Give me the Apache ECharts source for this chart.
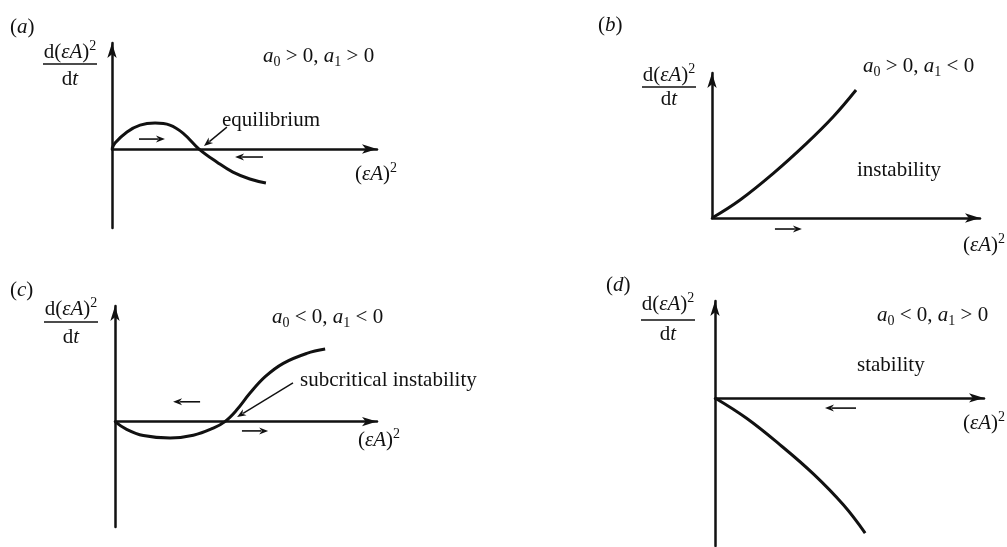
<!DOCTYPE html>
<html>
<head>
<meta charset="utf-8">
<script src="https://cdn.jsdelivr.net/npm/echarts@6/dist/echarts.min.js"></script>
<style>
  html, body { margin: 0; padding: 0; background: #ffffff; }
  #chart { width: 1007px; height: 547px; }
</style>
</head>
<body>
<div id="chart"></div>
<script>
// Growth rate of the squared amplitude against the squared amplitude,
// one sample list per case: [ (εA)^2 , d(εA)^2/dt ] in arbitrary units.
const curveA = [[0, 0], [0.11, 0.21], [0.55, 0.60], [1.03, 0.84], [1.58, 0.91], [2.12, 0.84],
                [2.60, 0.56], [3.19, 0], [3.85, -0.46], [4.43, -0.81], [5.05, -1.05], [5.64, -1.19]];
const curveB = [[0, 0], [1.02, 1.18], [2.23, 2.92], [3.44, 4.88], [4.41, 6.62], [5.24, 8.37]];
const curveC = [[0, 0], [0.43, -0.25], [1.05, -0.45], [2.04, -0.53], [2.90, -0.44], [3.64, -0.21],
                [4.07, 0], [4.51, 0.38], [5.00, 0.92], [5.56, 1.45], [6.23, 1.88], [7.10, 2.20], [7.78, 2.34]];
const curveD = [[0, 0], [1.14, -0.58], [2.35, -1.34], [3.55, -2.17], [4.64, -3.06], [5.42, -3.86]];

// Direction in which the amplitude drifts: [x from, y from, x to, y to]
const flowA = [[0.99, 0.35, 1.94, 0.35], [5.53, -0.28, 4.51, -0.28]];
const flowB = [[2.29, -0.72, 3.27, -0.72]];
const flowC = [[3.15, 0.64, 2.15, 0.64], [4.70, -0.30, 5.67, -0.30]];
const flowD = [[5.09, -0.29, 3.97, -0.29]];

// Leader arrows from a label to the fixed point they name
const pointerA = [[4.21, 0.77, 3.37, 0.105]];
const pointerC = [[6.59, 1.25, 4.52, 0.15]];

// Axis extents per panel
const xMaxes = [9.71, 9.75, 9.70, 9.71];
const yMins = [-2.77, 0, -3.40, -4.23];
const yMaxes = [3.72, 9.48, 3.73, 2.77];

const INK = '#111111';
const SERIF = '"Liberation Serif", "DejaVu Serif", serif';

const grids = [
  { left: 112, top: 43, width: 265, height: 185 },
  { left: 712, top: 73, width: 268, height: 145 },
  { left: 115, top: 306, width: 262, height: 221 },
  { left: 715, top: 301, width: 269, height: 245 }
];

const axisLine = {
  onZero: true,
  symbol: ['none', 'arrow'],
  symbolSize: [7, 15],
  lineStyle: { color: INK, width: 2.5 }
};
const bareAxis = {
  type: 'value',
  axisLine: axisLine,
  axisTick: { show: false },
  axisLabel: { show: false },
  splitLine: { show: false }
};

const xAxes = grids.map((g, i) => Object.assign({}, bareAxis, { gridIndex: i, min: 0, max: xMaxes[i] }));
const yAxes = grids.map((g, i) => Object.assign({}, bareAxis, { gridIndex: i, min: yMins[i], max: yMaxes[i] }));

function curveSeries(data, i) {
  return {
    type: 'line', xAxisIndex: i, yAxisIndex: i, data: data,
    smooth: 0.4, showSymbol: false, silent: true,
    lineStyle: { color: INK, width: 3 }
  };
}

function arrowSeries(data, i, headLen, headW, lw) {
  return {
    type: 'custom', xAxisIndex: i, yAxisIndex: i, data: data, silent: true, clip: false,
    encode: { x: [0, 2], y: [1, 3] },
    renderItem: function (params, api) {
      const p0 = api.coord([api.value(0), api.value(1)]);
      const p1 = api.coord([api.value(2), api.value(3)]);
      const dx = p1[0] - p0[0], dy = p1[1] - p0[1];
      const len = Math.hypot(dx, dy);
      const ux = dx / len, uy = dy / len, nx = -uy, ny = ux;
      const bx = p1[0] - ux * headLen, by = p1[1] - uy * headLen;
      return {
        type: 'group',
        children: [
          { type: 'line', shape: { x1: p0[0], y1: p0[1], x2: bx + ux * 2, y2: by + uy * 2 },
            style: { stroke: INK, lineWidth: lw } },
          { type: 'polygon',
            shape: { points: [
              [p1[0], p1[1]],
              [bx + nx * headW / 2, by + ny * headW / 2],
              [bx + ux * headLen * 0.3, by + uy * headLen * 0.3],
              [bx - nx * headW / 2, by - ny * headW / 2]
            ] },
            style: { fill: INK } }
        ]
      };
    }
  };
}

const rich = {
  rm: { fontFamily: SERIF, fontSize: 21, lineHeight: 26, fill: INK },
  it: { fontFamily: SERIF, fontSize: 21, fontStyle: 'italic', lineHeight: 26, fill: INK },
  sub: { fontFamily: SERIF, fontSize: 14, lineHeight: 14, verticalAlign: 'bottom', fill: INK },
  sup: { fontFamily: SERIF, fontSize: 14, lineHeight: 14, verticalAlign: 'top', fill: INK }
};

function label(x, y, text, align) {
  return {
    type: 'text', x: x, y: y, silent: true,
    style: { text: text, rich: rich, align: align || 'left', verticalAlign: 'middle',
             fontFamily: SERIF, fontSize: 21, fill: INK }
  };
}

function fraction(cx, yNum, yBar, yDen) {
  return [
    label(cx, yNum, '{rm|d(}{it|εA}{rm|)}{sup|2}', 'center'),
    { type: 'line', silent: true, shape: { x1: cx - 27, y1: yBar, x2: cx + 27, y2: yBar },
      style: { stroke: INK, lineWidth: 1.3 } },
    label(cx, yDen, '{rm|d}{it|t}', 'center')
  ];
}

const amp = '{rm|(}{it|εA}{rm|)}{sup|2}';

const texts = [
  // (a)
  label(10, 27, '{rm|(}{it|a}{rm|)}'),
  ...fraction(70, 52, 64, 79),
  label(263, 56, '{it|a}{sub|0}{rm| > 0, }{it|a}{sub|1}{rm| > 0}'),
  label(222, 120, '{rm|equilibrium}'),
  label(355, 174, amp),
  // (b)
  label(598, 25, '{rm|(}{it|b}{rm|)}'),
  ...fraction(669, 75, 87, 99),
  label(863, 66, '{it|a}{sub|0}{rm| > 0, }{it|a}{sub|1}{rm| < 0}'),
  label(857, 170, '{rm|instability}'),
  label(963, 245, amp),
  // (c)
  label(10, 290, '{rm|(}{it|c}{rm|)}'),
  ...fraction(71, 309, 322, 337),
  label(272, 317, '{it|a}{sub|0}{rm| < 0, }{it|a}{sub|1}{rm| < 0}'),
  label(300, 380, '{rm|subcritical instability}'),
  label(358, 440, amp),
  // (d)
  label(606, 285, '{rm|(}{it|d}{rm|)}'),
  ...fraction(668, 304, 320, 334),
  label(877, 315, '{it|a}{sub|0}{rm| < 0, }{it|a}{sub|1}{rm| > 0}'),
  label(857, 365, '{rm|stability}'),
  label(963, 423, amp)
];

const chart = echarts.init(document.getElementById('chart'), null, { renderer: 'canvas' });
chart.setOption({
  backgroundColor: '#ffffff',
  animation: false,
  grid: grids,
  xAxis: xAxes,
  yAxis: yAxes,
  series: [
    curveSeries(curveA, 0), curveSeries(curveB, 1), curveSeries(curveC, 2), curveSeries(curveD, 3),
    arrowSeries(flowA, 0, 9, 7, 1.6), arrowSeries(flowB, 1, 9, 7, 1.6),
    arrowSeries(flowC, 2, 9, 7, 1.6), arrowSeries(flowD, 3, 9, 7, 1.6),
    arrowSeries(pointerA, 0, 9, 7, 1.4), arrowSeries(pointerC, 2, 9, 7, 1.4)
  ],
  graphic: texts
});
</script>
</body>
</html>
